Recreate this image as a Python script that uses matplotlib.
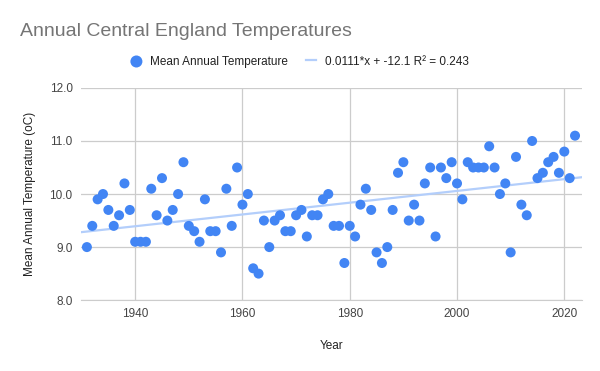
import matplotlib.pyplot as plt
import numpy as np

years = list(range(1931, 2023))
temps = [
    9.0, 9.4, 9.9, 10.0, 9.7, 9.4, 9.6, 10.2, 9.7,        # 1931-1939
    9.1, 9.1, 9.1, 10.1, 9.6, 10.3, 9.5, 9.7, 10.0, 10.6,  # 1940-1949
    9.4, 9.3, 9.1, 9.9, 9.3, 9.3, 8.9, 10.1, 9.4, 10.5,    # 1950-1959
    9.8, 10.0, 8.6, 8.5, 9.5, 9.0, 9.5, 9.6, 9.3, 9.3,     # 1960-1969
    9.6, 9.7, 9.2, 9.6, 9.6, 9.9, 10.0, 9.4, 9.4, 8.7,     # 1970-1979
    9.4, 9.2, 9.8, 10.1, 9.7, 8.9, 8.7, 9.0, 9.7, 10.4,    # 1980-1989
    10.6, 9.5, 9.8, 9.5, 10.2, 10.5, 9.2, 10.5, 10.3, 10.6,  # 1990-1999
    10.2, 9.9, 10.6, 10.5, 10.5, 10.5, 10.9, 10.5, 10.0, 10.2,  # 2000-2009
    8.9, 10.7, 9.8, 9.6, 11.0, 10.3, 10.4, 10.6, 10.7, 10.4,  # 2010-2019
    10.8, 10.3, 11.1,                                      # 2020-2022
]
x_ticks = [1940, 1960, 1980, 2000, 2020]
y_ticks = [8.0, 9.0, 10.0, 11.0, 12.0]

plt.rcParams["font.family"] = ["Liberation Sans", "DejaVu Sans"]

fig = plt.figure(figsize=(6, 3.71), dpi=100)
ax = fig.add_axes([0.135, 0.191, 0.835, 0.572])

x = np.array(years)
y = np.array(temps)
slope, intercept = np.polyfit(x, y, 1)
line_x = np.array([1929.9, 2023.3])

ax.plot(line_x, slope * line_x + intercept, color="#b3cefb", linewidth=1.6, zorder=2,
        label="0.0111*x + -12.1 R² = 0.243")
ax.scatter(x, y, s=52, color="#4285f4", edgecolors="none", zorder=3,
           label="Mean Annual Temperature")

ax.set_xlim(1929.9, 2023.3)
ax.set_ylim(8.0, 12.0)
ax.set_xticks(x_ticks)
ax.set_yticks(y_ticks)
ax.set_yticklabels([f"{v:.1f}" for v in y_ticks])
ax.grid(True, color="#cccccc", linewidth=0.9)
ax.set_axisbelow(True)
for side in ["top", "right", "left"]:
    ax.spines[side].set_visible(False)
ax.spines["bottom"].set_color("#cccccc")
ax.tick_params(length=0, labelsize=8.5, colors="#444444", pad=6)

ax.set_xlabel("Year", fontsize=8.5, color="#222222", labelpad=14)
ax.set_ylabel("Mean Annual Temperature (oC)", fontsize=8.5, color="#222222", labelpad=10)

fig.text(0.033, 0.915, "Annual Central England Temperatures", fontsize=14,
         color="#757575", va="center")

handles, labels = ax.get_legend_handles_labels()
fig.legend(handles[::-1], labels[::-1], loc="center", bbox_to_anchor=(0.5, 0.834),
           ncol=2, frameon=False, fontsize=8.5, handlelength=0.85, columnspacing=1.6,
           handletextpad=0.7, markerscale=1.2, labelcolor="#222222")

fig.savefig("out.png", dpi=100)
